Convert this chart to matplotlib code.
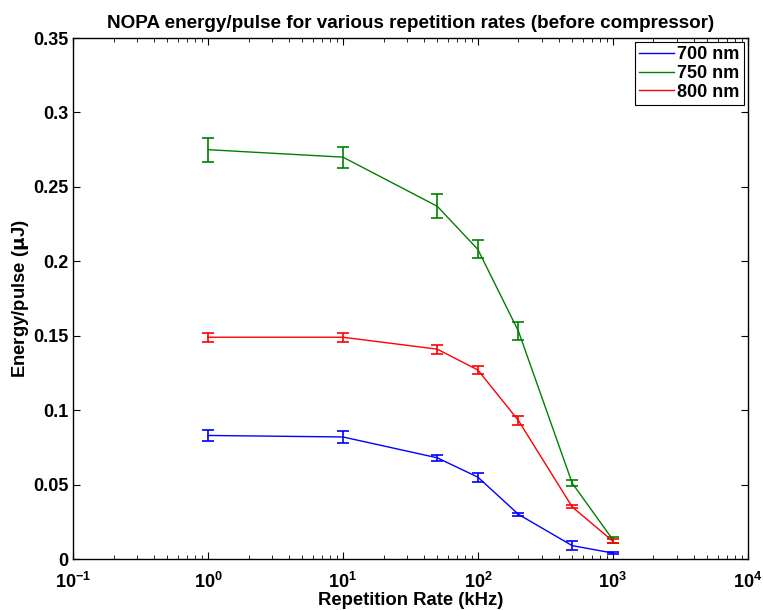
import numpy as np
import matplotlib
matplotlib.use('Agg')
import matplotlib.pyplot as plt
from matplotlib.lines import Line2D

plt.rcParams['font.family'] = ['Liberation Sans', 'DejaVu Sans']
plt.rcParams['font.weight'] = 'bold'
plt.rcParams['mathtext.default'] = 'bf'

# repetition rate (kHz)
rate = [1, 10, 50, 100, 200, 500, 1000]

e700 = [0.083, 0.082, 0.068, 0.055, 0.030, 0.009, 0.004]
err700 = [0.004, 0.004, 0.002, 0.003, 0.0012, 0.003, 0.0006]
e750 = [0.275, 0.270, 0.237, 0.208, 0.153, 0.051, 0.013]
err750 = [0.008, 0.007, 0.008, 0.006, 0.006, 0.002, 0.002]
e800 = [0.149, 0.149, 0.141, 0.127, 0.093, 0.035, 0.012]
err800 = [0.003, 0.003, 0.003, 0.003, 0.003, 0.001, 0.0012]

fig = plt.figure(figsize=(7.63, 6.1), dpi=100)
ax = fig.add_axes([0.0957, 0.0836, 0.8843, 0.854])

handles = []
for y, e, c, lab in [(e700, err700, 'b', '700 nm'),
                     (e750, err750, (0, 0.5, 0), '750 nm'),
                     (e800, err800, 'r', '800 nm')]:
    ax.errorbar(rate, y, yerr=e, color=c, lw=1, capsize=4, capthick=1.2,
                elinewidth=1.2)
    handles.append(Line2D([], [], color=c, lw=1, label=lab))

ax.set_xscale('log')
ax.set_xlim(0.1, 1e4)
ax.set_ylim(0, 0.35)
ax.set_yticks([0, 0.05, 0.1, 0.15, 0.2, 0.25, 0.3, 0.35])
ax.set_yticklabels(['0', '0.05', '0.1', '0.15', '0.2', '0.25', '0.3', '0.35'])
ax.tick_params(which='both', direction='in', top=True, right=True, labelsize=13)
ax.tick_params(axis='x', which='both', pad=9)
ax.tick_params(which='major', length=5)
ax.tick_params(which='minor', length=3)
for s in ax.spines.values():
    s.set_linewidth(1)

ax.set_xlabel('Repetition Rate (kHz)', fontsize=13.3, fontweight='bold', labelpad=0)
ax.set_ylabel(r'Energy/pulse ($\mu$J)', fontsize=13.3, fontweight='bold', labelpad=1)
ax.set_title('NOPA energy/pulse for various repetition rates (before compressor)',
             fontsize=13.6, fontweight='bold', pad=7)

leg = ax.legend(handles=handles, loc='upper right', fontsize=13, handlelength=1.9,
                fancybox=False, framealpha=1, edgecolor='k',
                borderaxespad=0.2, handletextpad=0.2, labelspacing=0.1,
                borderpad=0.25)
leg.get_frame().set_linewidth(0.8)

fig.savefig('out.png', dpi=100)
